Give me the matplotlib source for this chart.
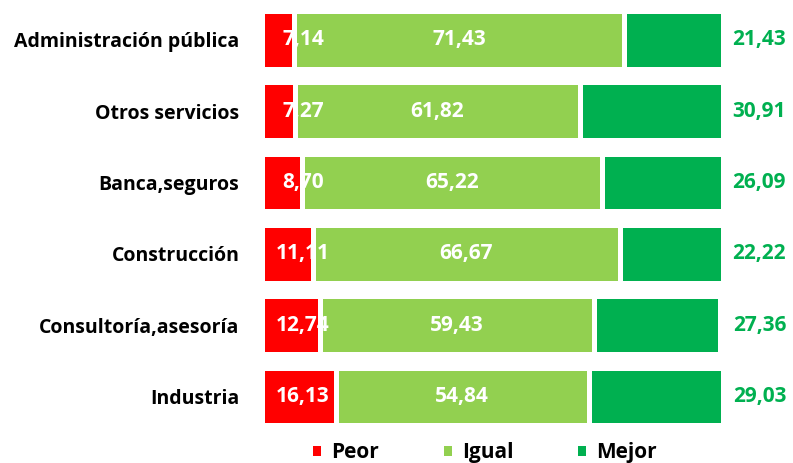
"""
stacked bars: peor / igual / mejor by sector
"""
import matplotlib.pyplot as plt
from matplotlib.patches import Patch

categories = [
    "Administración pública",
    "Otros servicios",
    "Banca,seguros",
    "Construcción",
    "Consultoría,asesoría",
    "Industria",
]
peor = [7.14, 7.27, 8.70, 11.11, 12.74, 16.13]
igual = [71.43, 61.82, 65.22, 66.67, 59.43, 54.84]
mejor = [21.43, 30.91, 26.09, 22.22, 27.36, 29.03]
series_names = ["Peor", "Igual", "Mejor"]

colors = ["#FF0000", "#92D050", "#00B050"]
font = "Open Sans"


def fmt(v):
    return f"{v:.2f}".replace(".", ",")


def main():
    fig = plt.figure(figsize=(7.93, 4.63), dpi=100)
    ax = fig.add_axes([261.5 / 793, 0.0665, 461 / 793, 0.9248])

    y = list(range(len(categories)))[::-1]
    left_igual = peor
    left_mejor = [p + i for p, i in zip(peor, igual)]

    kw = dict(height=0.81, edgecolor="white", linewidth=3.6)
    ax.barh(y, peor, color=colors[0], **kw)
    ax.barh(y, igual, left=left_igual, color=colors[1], **kw)
    ax.barh(y, mejor, left=left_mejor, color=colors[2], **kw)

    txt = dict(fontsize=15, fontweight="bold", family=font, va="center")
    for yi, p, i, li, m in zip(y, peor, igual, left_igual, mejor):
        # the red labels sit at a fixed spot, spilling past the short bars
        ax.text(9.0, yi, fmt(p), color="white", ha="center", **txt)
        ax.text(li + i / 2, yi, fmt(i), color="white", ha="center", **txt)
        ax.text(108.0, yi, fmt(m), color=colors[2], ha="center", **txt)

    ax.set_xlim(0, 100)
    ax.set_ylim(-0.5, len(categories) - 0.5)
    ax.set_yticks(y)
    ax.set_yticklabels(categories, fontsize=14, fontweight="bold", family=font)
    ax.tick_params(axis="y", length=0, pad=16)
    ax.set_xticks([])
    for s in ax.spines.values():
        s.set_visible(False)

    handles = [Patch(facecolor=c, edgecolor="none") for c in colors]
    fig.legend(
        handles,
        series_names,
        loc="center",
        bbox_to_anchor=(0.6116, 0.022),
        ncol=3,
        frameon=False,
        prop={"family": font, "weight": "bold", "size": 15},
        handlelength=0.39,
        handleheight=0.39,
        handletextpad=0.48,
        columnspacing=3.1,
        borderpad=0.1,
    )

    fig.savefig("out.png", dpi=100)


if __name__ == "__main__":
    main()
